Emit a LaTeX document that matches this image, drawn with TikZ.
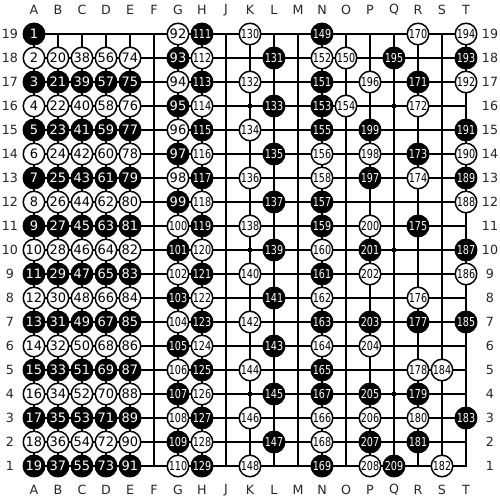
\documentclass[tikz,border=0pt]{standalone}
\usepackage{fontspec}
\setmainfont{DejaVu Sans}
\newfontfamily\stfont{DejaVu Sans}
\newfontfamily\stfontn[FakeStretch=0.78]{DejaVu Sans}
\newcommand\numtxt[1]{\ifnum#1>99 {\stfontn\fontsize{7}{8}\selectfont #1}\else{\stfont\fontsize{7.4}{8}\selectfont #1}\fi}
\newcommand\putstone[3]{%
  \pgfmathtruncatemacro\stpar{mod(#3,2)}%
  \ifnum\stpar=1
    \node[bst] (s#3) at (#1,#2-1) {\numtxt{#3}};%
  \else
    \node[wst] (s#3) at (#1,#2-1) {\numtxt{#3}};%
  \fi}
\tikzset{
  bst/.style={circle,inner sep=0pt,minimum size=0.43cm,fill=black,draw=black,line width=0.8pt,text=white},
  wst/.style={circle,inner sep=0pt,minimum size=0.43cm,fill=white,draw=black,line width=0.85pt,text=black},
  gridthin/.style={line width=0.6pt,black},
  gridedge/.style={line width=1.3pt,black},
  coordlbl/.style={font=\fontsize{7.2}{8}\selectfont,text=black!85,inner sep=0pt},
  hoshi/.style={fill=black}
}
\begin{document}
\begin{tikzpicture}[x=0.48cm,y=0.48cm]
\useasboundingbox[fill=white] (-34/24,-34/24) rectangle (466/24,466/24);
% grid
\foreach \i in {1,...,17} {
  \draw[gridthin] (\i,0) -- (\i,18);
  \draw[gridthin] (0,\i) -- (18,\i);
}
\draw[gridedge] (0,0) rectangle (18,18);
% star points
\foreach \a in {3,9,15} \foreach \b in {3,9,15}
  \fill[hoshi] (\a-0.09,\b-0.09) rectangle (\a+0.09,\b+0.09);
% coordinate labels
\foreach \L [count=\k from 0] in {A,B,C,D,E,F,G,H,J,K,L,M,N,O,P,Q,R,S,T} {
  \node[coordlbl] (ct\k) at (\k,19) {\L};
  \node[coordlbl] (cb\k) at (\k,-1) {\L};
}
\foreach \r in {1,...,19} {
  \node[coordlbl] (rl\r) at (-1,\r-1) {\r};
  \node[coordlbl] (rr\r) at (19,\r-1) {\r};
}
% stones A-E
\putstone{0}{19}{1}
\foreach \i in {0,...,4} \foreach \r in {1,...,18} {
  \pgfmathtruncatemacro\n{20+18*\i-\r}
  \putstone{\i}{\r}{\n}
}
% G and H
\foreach \r in {1,...,19} {
  \pgfmathtruncatemacro\n{111-\r}
  \putstone{6}{\r}{\n}
  \pgfmathtruncatemacro\n{130-\r}
  \putstone{7}{\r}{\n}
}
% K and L
\foreach \r in {1,3,...,19} {
  \pgfmathtruncatemacro\n{130+19-\r}
  \putstone{9}{\r}{\n}
}
\foreach \r in {2,4,...,18} {
  \pgfmathtruncatemacro\n{131+18-\r}
  \putstone{10}{\r}{\n}
}
% remaining stones
\foreach \c/\r/\n in {
  12/19/149, 12/18/152, 12/17/151, 12/16/153, 12/15/155, 12/14/156, 12/13/158,
  12/12/157, 12/11/159, 12/10/160, 12/9/161, 12/8/162, 12/7/163, 12/6/164,
  12/5/165, 12/4/167, 12/3/166, 12/2/168, 12/1/169,
  13/18/150, 13/16/154,
  14/17/196, 14/15/199, 14/14/198, 14/13/197, 14/11/200, 14/10/201, 14/9/202,
  14/7/203, 14/6/204, 14/4/205, 14/3/206, 14/2/207, 14/1/208,
  15/18/195, 15/1/209,
  16/19/170, 16/17/171, 16/16/172, 16/14/173, 16/13/174, 16/11/175, 16/8/176,
  16/7/177, 16/5/178, 16/4/179, 16/3/180, 16/2/181,
  17/5/184, 17/1/182,
  18/19/194, 18/18/193, 18/17/192, 18/15/191, 18/14/190, 18/13/189, 18/12/188,
  18/10/187, 18/9/186, 18/7/185, 18/3/183} {
  \putstone{\c}{\r}{\n}
}
\end{tikzpicture}
\end{document}
